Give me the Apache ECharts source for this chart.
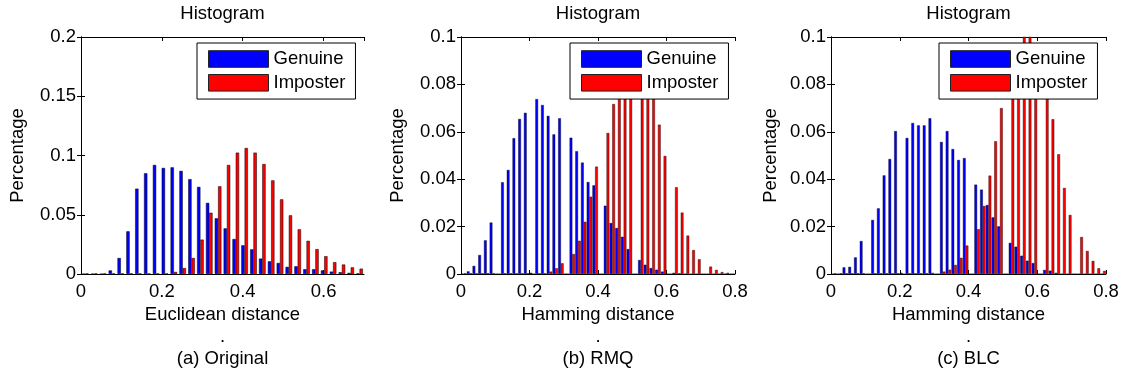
<!DOCTYPE html>
<html>
<head>
<meta charset="utf-8">
<title>Histogram</title>
<script src="https://cdn.jsdelivr.net/npm/echarts@6/dist/echarts.min.js"></script>
<style>
  html, body { margin: 0; padding: 0; background: #fff; }
  #main { width: 1126px; height: 378px; }
</style>
</head>
<body>
<div id="main"></div>
<script>
// labels
var legendNames = ['Genuine', 'Imposter'];
var panelTitles = ['Histogram', 'Histogram', 'Histogram'];
var captions = ['(a) Original', '(b) RMQ', '(c) BLC'];
var xNames = ['Euclidean distance', 'Hamming distance', 'Hamming distance'];
var yName = 'Percentage';

// axis ranges per panel
var xMax = [0.7, 0.8, 0.8];
var yMax = [0.2, 0.1, 0.1];
var yStep = [0.05, 0.02, 0.02];
var xStep = 0.2;

// (a) Original - 32 bins over 0..0.7
var genuineA = [0, 0, 0, 0.003, 0.0135, 0.036, 0.072, 0.085, 0.092, 0.0895,
  0.09, 0.087, 0.08, 0.0735, 0.06, 0.047, 0.0385, 0.0295, 0.0242, 0.0208,
  0.013, 0.0107, 0.0093, 0.006, 0.0065, 0.004, 0.004, 0.003, 0.002, 0.0015,
  0.001, 0.0005];
var imposterA = [0.0004, 0.0004, 0.0004, 0.0004, 0.0004, 0.0004, 0.0004, 0.0004, 0.0004, 0.0004,
  0.0017, 0.005, 0.0135, 0.029, 0.0517, 0.074, 0.092, 0.1024, 0.1063, 0.1024,
  0.0928, 0.079, 0.063, 0.0495, 0.0377, 0.028, 0.021, 0.015, 0.01, 0.008,
  0.0056, 0.0045];

// (b) RMQ - 48 bins over 0..0.8
var genuineB = [0, 0.0011, 0.0034, 0.008, 0.0142, 0.0217, 0, 0.0387, 0.0439, 0.0573,
  0.0654, 0.068, 0.0005, 0.0738, 0.0713, 0.0667, 0.0589, 0.0657, 0, 0.0575,
  0.0518, 0.047, 0.0388, 0.0374, 0, 0.0288, 0.0215, 0.0194, 0.0157, 0.0105,
  0, 0.0059, 0.0039, 0.0025, 0.0018, 0.001, 0, 0.0005, 0.0003, 0,
  0, 0, 0, 0, 0, 0, 0, 0];
var imposterB = [0.0003, 0.0003, 0.0003, 0.0003, 0.0003, 0.0003, 0, 0.0003, 0.0003, 0.0003,
  0.0003, 0.0003, 0, 0.0003, 0.0003, 0.001, 0.0024, 0.0045, 0, 0.0084,
  0.014, 0.022, 0.0326, 0.0453, 0, 0.0595, 0.0717, 0.083, 0.092, 0.094,
  0, 0.093, 0.088, 0.075, 0.063, 0.0498, 0, 0.0366, 0.0259, 0.0162,
  0.0101, 0.0062, 0, 0.0031, 0.0017, 0.0008, 0.0005, 0];

// (c) BLC - 48 bins over 0..0.8
var genuineC = [0, 0, 0.0028, 0.003, 0.007, 0.0139, 0, 0.0228, 0.0277, 0.0416,
  0.0485, 0.0603, 0.0005, 0.0574, 0.0637, 0.0627, 0.0627, 0.0657, 0, 0.0557,
  0.0603, 0.0527, 0.0481, 0.0489, 0, 0.0377, 0.0356, 0.0291, 0.0239, 0.0201,
  0, 0.0131, 0.0115, 0.0077, 0.0056, 0.0046, 0, 0.0017, 0.0014, 0.0005,
  0, 0, 0, 0, 0, 0, 0, 0];
var imposterC = [0.0003, 0.0003, 0.0003, 0.0003, 0.0003, 0.0003, 0, 0.0003, 0.0003, 0.0003,
  0.0003, 0.0003, 0, 0.0003, 0.0003, 0.0003, 0.0003, 0.0005, 0, 0.001,
  0.0018, 0.0038, 0.0068, 0.012, 0, 0.0189, 0.0287, 0.0415, 0.056, 0.07,
  0, 0.08, 0.092, 0.105, 0.102, 0.094, 0, 0.075, 0.0653, 0.0505,
  0.0363, 0.0249, 0, 0.0156, 0.0097, 0.0055, 0.0024, 0.0013];

var genuine = [genuineA, genuineB, genuineC];
var imposter = [imposterA, imposterB, imposterC];

var grids = [
  { left: 81, top: 37, width: 283, height: 237 },
  { left: 461, top: 37, width: 274, height: 237 },
  { left: 831, top: 37, width: 275, height: 237 }
];
var legendLeft = [197, 570, 939];
var barW = [3.3, 2.7, 2.7];
var edgeW = [0.5, 0.4, 0.4];
var yNameGap = [54, 54, 51];

var fontFamily = 'Liberation Sans, Arial, sans-serif';
var txt = { fontFamily: fontFamily, fontSize: 18.5, color: '#000', fontWeight: 'normal' };
var black = { color: '#000', width: 1 };

var titles = [], xAxes = [], yAxes = [], legends = [], series = [];

for (var i = 0; i < 3; i++) {
  var cx = grids[i].left + grids[i].width / 2;
  titles.push({ text: panelTitles[i], left: cx, top: 4, textAlign: 'center', padding: 0, textStyle: txt });
  titles.push({ text: '.', left: cx, top: 327, textAlign: 'center', padding: 0, textStyle: txt });
  titles.push({ text: captions[i], left: cx, top: 349, textAlign: 'center', padding: 0, textStyle: txt });

  // hidden category axis that carries the bins
  xAxes.push({
    type: 'category', gridIndex: i, show: false,
    data: genuine[i].map(function (v, k) { return k; })
  });
  xAxes.push({
    type: 'value', gridIndex: i, position: 'bottom', min: 0, max: xMax[i], interval: xStep,
    name: xNames[i], nameLocation: 'middle', nameGap: 31, nameTextStyle: txt,
    axisLine: { lineStyle: black }, axisTick: { inside: true, length: 4, lineStyle: black },
    axisLabel: { margin: 8, fontFamily: fontFamily, fontSize: 18.5, color: '#000', showMaxLabel: i > 0 },
    splitLine: { show: false }
  });
  xAxes.push({
    type: 'value', gridIndex: i, position: 'top', min: 0, max: xMax[i], interval: xStep,
    axisLine: { lineStyle: black }, axisTick: { inside: true, length: 4, lineStyle: black },
    axisLabel: { show: false }, splitLine: { show: false }
  });

  yAxes.push({
    type: 'value', gridIndex: i, position: 'left', min: 0, max: yMax[i], interval: yStep[i],
    name: yName, nameLocation: 'middle', nameGap: yNameGap[i], nameTextStyle: txt,
    axisLine: { show: true, lineStyle: black }, axisTick: { show: true, inside: true, length: 4, lineStyle: black },
    axisLabel: { margin: 5, fontFamily: fontFamily, fontSize: 18.5, color: '#000' },
    splitLine: { show: false }
  });
  yAxes.push({
    type: 'value', gridIndex: i, position: 'right', min: 0, max: yMax[i], interval: yStep[i],
    axisLine: { show: true, lineStyle: black }, axisTick: { show: true, inside: true, length: 4, lineStyle: black },
    axisLabel: { show: false }, splitLine: { show: false }
  });

  legends.push({
    orient: 'vertical', left: legendLeft[i], top: 43, data: legendNames,
    icon: 'rect', itemWidth: 60, itemHeight: 16.6, itemGap: 4.8, itemTextGap: 6,
    padding: [6.5, 10, 6.75, 11], backgroundColor: '#fff', borderColor: '#000', borderWidth: 1,
    selectedMode: false, textStyle: { fontFamily: fontFamily, fontSize: 18.5, color: '#000' },
    itemStyle: { borderColor: '#222', borderWidth: 1 }
  });

  series.push({
    name: legendNames[0], type: 'bar', xAxisIndex: 3 * i, yAxisIndex: 2 * i,
    data: genuine[i], barWidth: barW[i], barGap: '0%',
    itemStyle: { color: '#0000ff', borderColor: '#000', borderWidth: edgeW[i] }
  });
  series.push({
    name: legendNames[1], type: 'bar', xAxisIndex: 3 * i, yAxisIndex: 2 * i,
    data: imposter[i], barWidth: barW[i], barGap: '0%',
    itemStyle: { color: '#ff0000', borderColor: '#000', borderWidth: edgeW[i] }
  });
}

var myChart = echarts.init(document.getElementById('main'));
myChart.setOption({
  backgroundColor: '#fff',
  animation: false,
  title: titles,
  legend: legends,
  grid: grids,
  xAxis: xAxes,
  yAxis: yAxes,
  series: series
});
</script>
</body>
</html>
